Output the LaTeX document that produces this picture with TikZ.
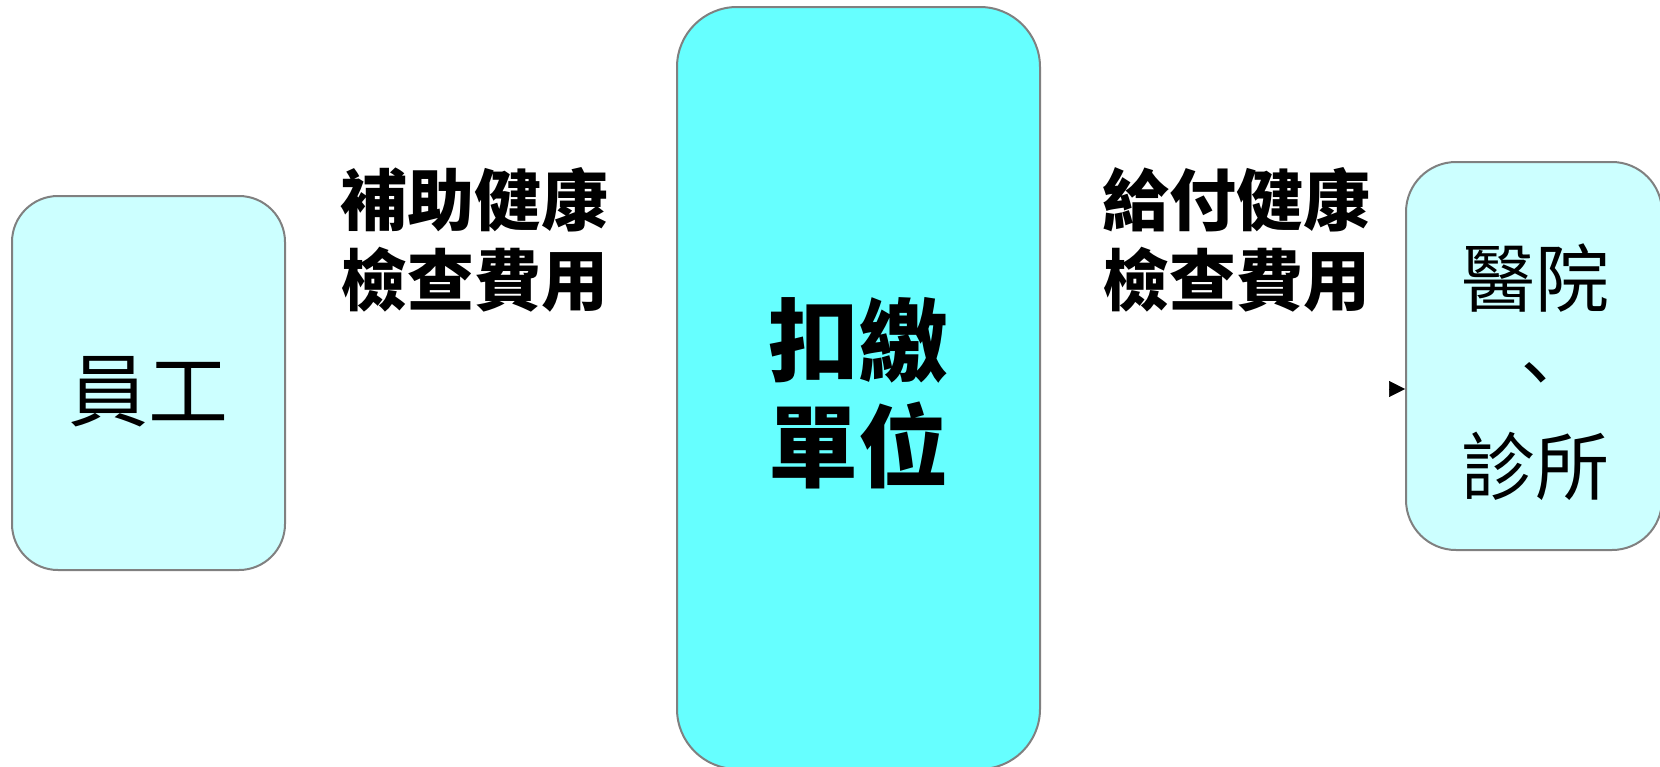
\documentclass[tikz,border=0pt]{standalone}
\usepackage{fontspec}
\newfontfamily\cjk{Noto Sans CJK TC}
\usetikzlibrary{arrows.meta}
\definecolor{lightc}{HTML}{CCFFFF}
\definecolor{midc}{HTML}{66FFFF}
\definecolor{edgec}{HTML}{808080}
\tikzset{
  boxnode/.style={draw=edgec, line width=2pt, rounded corners=#1, inner sep=0pt},
  lbl/.style={align=center, inner sep=0pt, font=\cjk\bfseries\fontsize{67}{80}\selectfont},
  plain/.style={align=center, inner sep=0pt, font=\cjk\fontsize{74}{94}\selectfont},
  plainbig/.style={align=center, inner sep=0pt, font=\cjk\fontsize{80}{94}\selectfont},
  big/.style={align=center, inner sep=0pt, font=\cjk\bfseries\fontsize{90}{106}\selectfont},
}
\begin{document}
\begin{tikzpicture}[x=1pt,y=-1pt]
\useasboundingbox (0,0) rectangle (1660,766);
% boxes
\node[boxnode=46pt, fill=lightc, minimum width=273pt, minimum height=374pt] (emp) at (148.5,383) {};
\node[boxnode=60pt, fill=midc, minimum width=363pt, minimum height=762pt] (mid) at (858.5,388) {};
\node[boxnode=50pt, fill=lightc, minimum width=256pt, minimum height=388pt] (hosp) at (1534,356) {};
% texts
\node[plainbig] (empt) at (148,392) {員工};
\node[big] (midt) at (858,393) {扣繳\\單位};
\node[plain] (hospt) at (1535,372) {醫院\\、\\診所};
\node[lbl] (l1) at (474,240) {補助健康\\檢查費用};
\node[lbl] (l2) at (1236,240) {給付健康\\檢查費用};
% arrow head only visible
\coordinate (ast) at (1389,389);
\draw[line width=0.5pt, -{Triangle[length=16pt,width=16pt]}] (ast) -- (ast -| hosp.west);
\end{tikzpicture}
\end{document}
